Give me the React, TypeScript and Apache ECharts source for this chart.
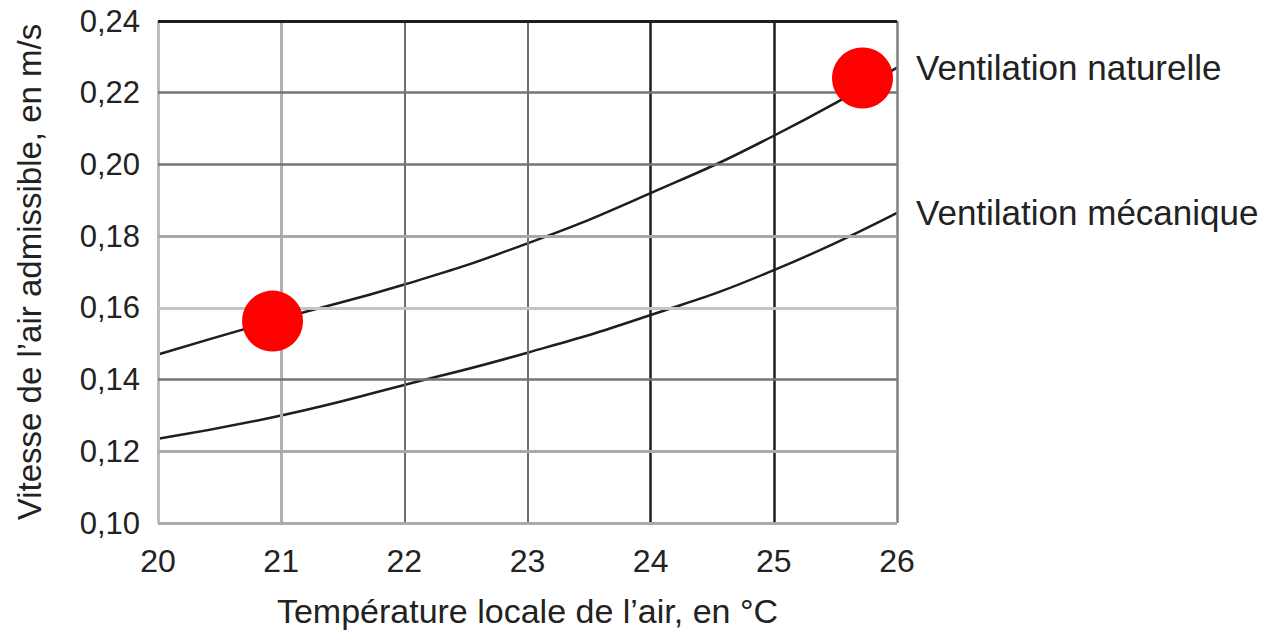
import React, { useEffect, useRef } from "react";
import * as echarts from "echarts";

const temperatures = [20, 21, 22, 23, 24, 25, 26];
const naturelle = [0.147, 0.157, 0.1665, 0.178, 0.192, 0.208, 0.227];
const mecanique = [0.1235, 0.130, 0.1385, 0.1475, 0.158, 0.1705, 0.1865];
const redDots = [
  [20.93, 0.1563],
  [25.72, 0.2241],
];
const xTicks = [20, 21, 22, 23, 24, 25, 26];
const yTicks = [0.1, 0.12, 0.14, 0.16, 0.18, 0.2, 0.22, 0.24];
const yTickLabels = ["0,10", "0,12", "0,14", "0,16", "0,18", "0,20", "0,22", "0,24"];
const seriesNames = ["Ventilation naturelle", "Ventilation mécanique"];
const xName = "Température locale de l’air, en °C";
const yName = "Vitesse de l’air admissible, en m/s";

// grid line styles (kept separate from data)
const vStyles = [
  { color: "#bdbdbd", width: 3 },
  { color: "#b0b0b0", width: 3 },
  { color: "#6e6e6e", width: 2 },
  { color: "#6e6e6e", width: 2 },
  { color: "#1e1e1e", width: 2.5 },
  { color: "#1e1e1e", width: 2.5 },
  { color: "#808080", width: 2.5 },
];
const hStyles = [
  { color: "#aaaaaa", width: 3 },
  { color: "#aaaaaa", width: 3 },
  { color: "#757575", width: 2.5 },
  { color: "#c4c4c4", width: 3 },
  { color: "#a8a8a8", width: 3 },
  { color: "#757575", width: 2.5 },
  { color: "#757575", width: 2.5 },
  { color: "#1e1e1e", width: 3 },
];

const FONT = "'Liberation Sans', Arial, sans-serif";
const TEXT = "#222222";

export default function App() {
  const ref = useRef<HTMLDivElement>(null);
  useEffect(() => {
    if (!ref.current) return;
    const chart = echarts.init(ref.current, undefined, { renderer: "svg" });
    const gridLines: any[] = [];
    xTicks.forEach((v, i) =>
      gridLines.push({ xAxis: v, lineStyle: { ...vStyles[i], type: "solid" } })
    );
    yTicks.forEach((v, i) =>
      gridLines.push({ yAxis: v, lineStyle: { ...hStyles[i], type: "solid" } })
    );
    chart.setOption({
      animation: false,
      backgroundColor: "#ffffff",
      textStyle: { fontFamily: FONT },
      grid: {
        left: 158,
        top: 21,
        width: 739,
        height: 502,
        containLabel: false,
        outerBoundsMode: "none",
      },
      xAxis: {
        type: "value",
        min: 20,
        max: 26,
        interval: 1,
        axisLine: { show: false },
        axisTick: { show: false },
        splitLine: { show: false },
        axisLabel: {
          fontSize: 32,
          color: TEXT,
          margin: 22,
          fontFamily: FONT,
        },
        name: xName,
        nameLocation: "middle",
        nameGap: 71,
        nameTextStyle: {
          fontSize: 34,
          lineHeight: 34,
          color: TEXT,
          fontFamily: FONT,
        },
      },
      yAxis: {
        type: "value",
        min: 0.1,
        max: 0.24,
        interval: 0.02,
        axisLine: { show: false },
        axisTick: { show: false },
        splitLine: { show: false },
        axisLabel: {
          fontSize: 31,
          color: TEXT,
          margin: 18,
          fontFamily: FONT,
          formatter: (v: number) => {
            const idx = yTicks.findIndex((t) => Math.abs(t - v) < 1e-6);
            return idx >= 0 ? yTickLabels[idx] : "";
          },
        },
        name: yName,
        nameLocation: "middle",
        nameGap: 112,
        nameRotate: 90,
        nameTextStyle: { fontSize: 33, color: TEXT, fontFamily: FONT },
      },
      series: [
        {
          type: "line",
          data: [],
          z: 1,
          silent: true,
          markLine: {
            silent: true,
            symbol: "none",
            animation: false,
            label: { show: false },
            data: gridLines,
          },
        },
        {
          name: seriesNames[0],
          type: "line",
          smooth: true,
          showSymbol: false,
          z: 3,
          lineStyle: { color: "#1e1e1e", width: 2.5 },
          data: temperatures.map((t, i) => [t, naturelle[i]]),
          endLabel: {
            show: true,
            formatter: "{a}",
            distance: 19,
            fontSize: 35,
            color: TEXT,
            fontFamily: FONT,
          },
        },
        {
          name: seriesNames[1],
          type: "line",
          smooth: true,
          showSymbol: false,
          z: 3,
          lineStyle: { color: "#1e1e1e", width: 2.5 },
          data: temperatures.map((t, i) => [t, mecanique[i]]),
          endLabel: {
            show: true,
            formatter: "{a}",
            distance: 19,
            fontSize: 35,
            color: TEXT,
            fontFamily: FONT,
          },
        },
        {
          type: "scatter",
          z: 5,
          symbolSize: 61,
          itemStyle: { color: "#ff0000", opacity: 1 },
          data: redDots,
        },
      ],
    });
    return () => chart.dispose();
  }, []);
  return (
    <div
      ref={ref}
      style={{ position: "fixed", left: 0, top: 0, width: 1265, height: 630 }}
    />
  );
}
